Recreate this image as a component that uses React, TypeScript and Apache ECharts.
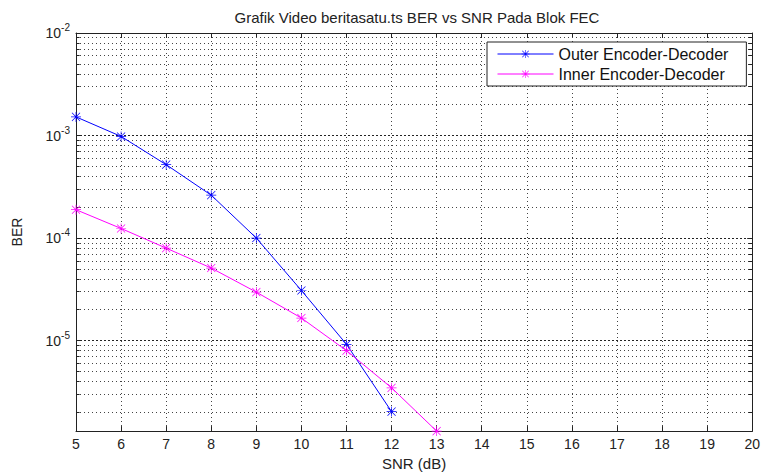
import React, { useEffect, useRef } from "react";
import * as echarts from "echarts";

const snr = [5, 6, 7, 8, 9, 10, 11, 12, 13];
const outerBER = [1.52e-3, 0.98e-3, 5.2e-4, 2.62e-4, 1.0e-4, 3.08e-5, 9.2e-6, 2.03e-6];
const innerBER = [1.89e-4, 1.24e-4, 7.98e-5, 5.1e-5, 2.97e-5, 1.66e-5, 7.98e-6, 3.46e-6, 1.31e-6];
const seriesNames = ["Outer Encoder-Decoder", "Inner Encoder-Decoder"];
const xMin = 5;
const xMax = 20;
const yMin = 1.31e-6;
const yMax = 1e-2;
const decades = [1e-6, 1e-5, 1e-4, 1e-3];
const mantissas = [2, 3, 4, 5, 6, 7, 8, 9];

const FONT = "'Liberation Sans', Arial, Helvetica, sans-serif";
const ASTERISK =
  "path://M9.3 0h1.4v20h-1.4z M0 9.3h20v1.4h-20z M2.4 1.4L18.6 17.6L17.6 18.6L1.4 2.4Z M17.6 1.4L18.6 2.4L2.4 18.6L1.4 17.6Z";

export default function App() {
  const ref = useRef<HTMLDivElement>(null);
  useEffect(() => {
    if (!ref.current) return;
    const chart = echarts.init(ref.current, null, { renderer: "svg" });
    const minorValues = decades
      .flatMap((d) => mantissas.map((m) => m * d))
      .filter((v) => v > yMin && v < yMax);
    // minor tick length expressed in x data units (~4px)
    const tickLen = 0.08;
    const axisTick = { inside: true, length: 5, lineStyle: { color: "#222" } };
    const axisLine = { show: true, onZero: false, lineStyle: { color: "#222", width: 1 } };
    const labelFormatter = (v: number) => {
      const e = Math.log10(v);
      const r = Math.round(e);
      if (Math.abs(e - r) > 1e-3) return "";
      return `{b|10}{s|${r}}`;
    };
    chart.setOption({
      animation: false,
      backgroundColor: "#fff",
      title: {
        text: "Grafik Video beritasatu.ts BER vs SNR Pada Blok FEC",
        left: 417,
        top: 10,
        textAlign: "center",
        padding: 0,
        textStyle: { fontSize: 15, fontWeight: "normal", color: "#222", fontFamily: FONT },
      },
      grid: { left: 76, right: 5, top: 33, bottom: 35, containLabel: false },
      legend: {
        orient: "vertical",
        left: 487,
        top: 42,
        z: 20,
        padding: [4, 18, 4, 10],
        itemGap: 4,
        itemWidth: 56,
        itemHeight: 10,
        backgroundColor: "#fff",
        borderColor: "#222",
        borderWidth: 1,
        borderRadius: 0,
        lineStyle: { width: 1 },
        textStyle: { fontSize: 16, color: "#111", fontFamily: FONT },
        data: seriesNames,
      },
      xAxis: [
        {
          type: "value",
          min: xMin,
          max: xMax,
          interval: 1,
          axisLine,
          axisTick,
          axisLabel: { margin: 6, fontSize: 14, color: "#222", fontFamily: FONT },
          splitLine: { show: true, lineStyle: { color: "#444", width: 1, type: [1, 3] } },
          name: "SNR (dB)",
          nameLocation: "middle",
          nameGap: 20,
          nameTextStyle: { fontSize: 15, color: "#222", fontFamily: FONT },
        },
        {
          type: "value",
          position: "top",
          min: xMin,
          max: xMax,
          interval: 1,
          axisLine,
          axisTick,
          axisLabel: { show: false },
          splitLine: { show: false },
        },
      ],
      yAxis: [
        {
          type: "log",
          logBase: 10,
          min: yMin,
          max: yMax,
          axisLine,
          axisTick,
          axisLabel: {
            margin: 6,
            formatter: labelFormatter,
            rich: {
              b: { fontSize: 14, color: "#222", fontFamily: FONT },
              s: { fontSize: 10, color: "#222", fontFamily: FONT, padding: [0, 0, 11, 0] },
            },
          },
          splitLine: { show: true, lineStyle: { color: "#222", width: 1, type: [2, 2] } },
          name: "BER",
          nameLocation: "middle",
          nameGap: 52,
          nameTextStyle: { fontSize: 14, color: "#222", fontFamily: FONT },
        },
        {
          type: "log",
          logBase: 10,
          position: "right",
          min: yMin,
          max: yMax,
          axisLine,
          axisTick,
          axisLabel: { show: false },
          splitLine: { show: false },
        },
      ],
      series: [
        {
          name: seriesNames[0],
          type: "line",
          data: outerBER.map((v, i) => [snr[i], v]),
          symbol: ASTERISK,
          symbolSize: 10,
          lineStyle: { color: "#0000ff", width: 1 },
          itemStyle: { color: "#0000ff" },
          z: 5,
          markLine: {
            silent: true,
            z: 1,
            symbol: ["none", "none"],
            label: { show: false },
            lineStyle: { color: "#444", width: 1, type: [1, 3] },
            data: minorValues.map((v) => [{ coord: [xMin, v] }, { coord: [xMax, v] }]),
          },
        },
        {
          name: seriesNames[1],
          type: "line",
          data: innerBER.map((v, i) => [snr[i], v]),
          symbol: ASTERISK,
          symbolSize: 10,
          lineStyle: { color: "#ff00ff", width: 1 },
          itemStyle: { color: "#ff00ff" },
          z: 5,
          markLine: {
            silent: true,
            z: 2,
            symbol: ["none", "none"],
            label: { show: false },
            lineStyle: { color: "#222", width: 1, type: "solid" },
            data: minorValues.flatMap((v) => [
              [{ coord: [xMin, v] }, { coord: [xMin + tickLen, v] }],
              [{ coord: [xMax - tickLen, v] }, { coord: [xMax, v] }],
            ]),
          },
        },
      ],
    });
    return () => chart.dispose();
  }, []);
  return (
    <div
      ref={ref}
      style={{ position: "fixed", left: 0, top: 0, width: 763, height: 476, background: "#fff" }}
    />
  );
}
